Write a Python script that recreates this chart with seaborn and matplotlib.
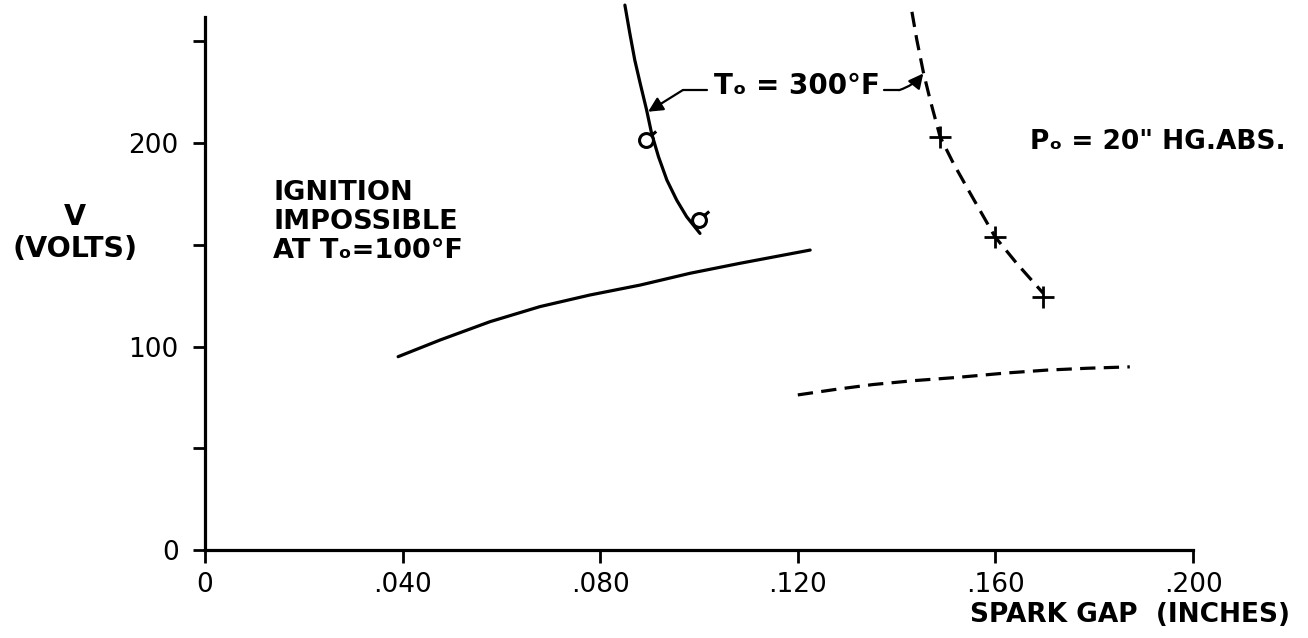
import matplotlib
matplotlib.use("Agg")
import matplotlib.pyplot as plt
from matplotlib.path import Path
import pandas as pd
import seaborn as sns

# values (spark gap in inches, V in volts)
solid100_gap = [0.0391, 0.0476, 0.0577, 0.0678, 0.0779, 0.0881, 0.0982, 0.1083, 0.1225]
solid100_v = [95.0, 103.2, 112.2, 119.6, 125.3, 130.2, 136.0, 140.9, 147.4]

dash100_gap = [0.1200, 0.1279, 0.1352, 0.1434, 0.1522, 0.1623, 0.1704, 0.1785, 0.1872]
dash100_v = [76.2, 79.0, 81.3, 83.2, 84.8, 87.0, 88.4, 89.3, 90.0]

solid300_gap = [0.0850, 0.0860, 0.0870, 0.0881, 0.0894, 0.0904, 0.0918,
                0.0935, 0.0955, 0.0975, 0.1002]
solid300_v = [267.8, 253.9, 240.8, 229.3, 216.2, 204.8, 193.3,
              181.8, 171.9, 163.8, 155.6]
solid300_pts_gap = [0.0893, 0.0999]
solid300_pts_v = [201.5, 162.2]

dash300_gap = [0.1431, 0.1441, 0.1454, 0.1468, 0.1488, 0.1515, 0.1549,
               0.1576, 0.1599, 0.1643, 0.1697]
dash300_v = [264.5, 250.6, 235.0, 221.1, 203.1, 190.0, 175.3,
             163.8, 154.0, 140.9, 126.1]
dash300_pts_gap = [0.1488, 0.1599, 0.1697]
dash300_pts_v = [203.1, 154.0, 124.5]

xtick_vals = [0, 0.04, 0.08, 0.12, 0.16, 0.20]
xtick_text = ["0", ".040", ".080", ".120", ".160", ".200"]
ytick_vals = [0, 50, 100, 150, 200, 250]
ytick_text = ["0", "", "100", "", "200", ""]

sns.set_style("ticks")
plt.rcParams['font.family'] = ['DejaVu Sans']
plt.rcParams['text.color'] = 'black'
plt.rcParams['xtick.color'] = 'black'
plt.rcParams['ytick.color'] = 'black'
plt.rcParams['axes.edgecolor'] = 'black'

fig = plt.figure(figsize=(13.08, 6.38), dpi=100)
ax = fig.add_axes([0.1567, 0.138, 0.7554, 0.861])

lw = 2.3
dash = (0, (4.8, 2.6))

def draw(gx, gv, style):
    df = pd.DataFrame({"gap": gx, "v": gv})
    sns.lineplot(data=df, x="gap", y="v", ax=ax, color="black", lw=lw,
                 linestyle=style, sort=False, estimator=None)

draw(solid100_gap, solid100_v, "-")
draw(dash100_gap, dash100_v, dash)
draw(solid300_gap, solid300_v, "-")
draw(dash300_gap, dash300_v, dash)

# flagged circle symbol
circ = Path.unit_circle()
flag = Path([(0.7, 0.7), (1.4, 1.3)], [Path.MOVETO, Path.LINETO])
flag_circle = Path.make_compound_path(circ, flag)

pts = pd.DataFrame({"gap": solid300_pts_gap, "v": solid300_pts_v})
ax.plot(pts["gap"], pts["v"], linestyle="none", marker=flag_circle,
        markersize=14, markerfacecolor="white", markeredgecolor="black",
        markeredgewidth=2.2)

crosses = pd.DataFrame({"gap": dash300_pts_gap, "v": dash300_pts_v})
sns.scatterplot(data=crosses, x="gap", y="v", ax=ax, marker="+", s=230,
                color="black", linewidth=2)

# labels on the plot
ax.text(0.1198, 228, "Tₒ = 300°F", fontsize=20, fontweight="bold",
        ha="center", va="center")
ax.plot([0.0967, 0.1017], [226, 226], color="black", lw=1.6)
ax.annotate("", xy=(0.0897, 215.4), xytext=(0.0967, 226),
            arrowprops=dict(arrowstyle="-|>", color="black", lw=1.6,
                            mutation_scale=22, shrinkA=0, shrinkB=0))
ax.plot([0.1375, 0.1405], [226, 226], color="black", lw=1.6)
ax.annotate("", xy=(0.1454, 234.2), xytext=(0.1405, 226),
            arrowprops=dict(arrowstyle="-|>", color="black", lw=1.6,
                            mutation_scale=22, shrinkA=0, shrinkB=0,
                            connectionstyle="arc3,rad=0.15"))

ax.text(0.167, 200.5, "Pₒ = 20\" HG.ABS.", fontsize=19, fontweight="bold",
        ha="left", va="center", clip_on=False)

ax.text(0.0138, 182, "IGNITION\nIMPOSSIBLE\nAT Tₒ=100°F", fontsize=19.5,
        fontweight="bold", ha="left", va="top", linespacing=1.15)

fig.text(75 / 1308, 1 - 233 / 638, "V\n(VOLTS)", fontsize=20.5,
         fontweight="bold", ha="center", va="center", linespacing=1.15)
fig.text(1290 / 1308, 1 - 615 / 638, "SPARK GAP  (INCHES)", fontsize=19,
         fontweight="bold", ha="right", va="center")

ax.set_xlim(0, 0.2)
ax.set_ylim(0, 270)
ax.set_xticks(xtick_vals)
ax.set_xticklabels(xtick_text)
ax.set_yticks(ytick_vals)
ax.set_yticklabels(ytick_text)
ax.set_xlabel("")
ax.set_ylabel("")
ax.tick_params(axis="both", direction="out", length=9, width=2,
               labelsize=19)
ax.tick_params(axis="x", pad=7)
ax.tick_params(axis="y", pad=10)

for s in ["top", "right"]:
    ax.spines[s].set_visible(False)
ax.spines["left"].set_linewidth(2.3)
ax.spines["bottom"].set_linewidth(2.3)
ax.spines["left"].set_bounds(0, 262)

fig.savefig("out.png", dpi=100)
